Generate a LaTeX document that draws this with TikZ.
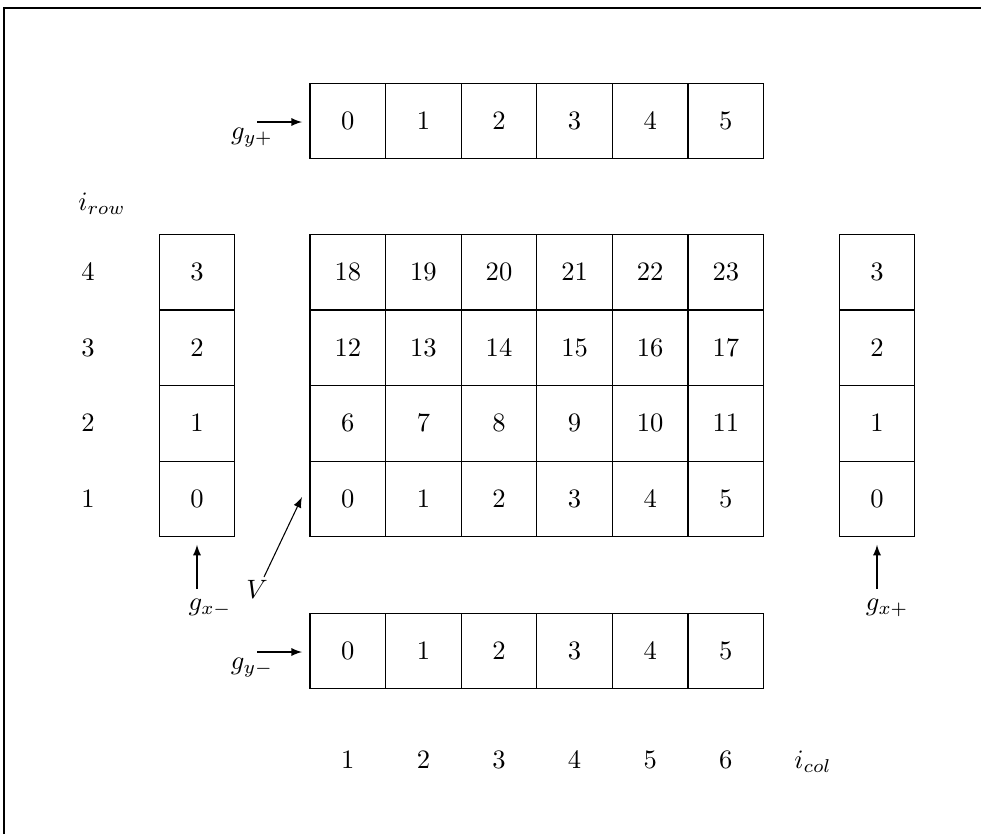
\documentclass[tikz,border=0pt]{standalone}
\usetikzlibrary{arrows}
\begin{document}
\begin{tikzpicture}[x={(0.013228cm,0)},y={(0,-0.013228cm)},
  cell/.style={draw,minimum size=1cm,inner sep=0pt,outer sep=0pt},
  lbl/.style={inner sep=0pt},
  arr/.style={->,>=latex,shorten >=3pt}]
\useasboundingbox (0,0) rectangle (981,834);
\draw (4,834) -- (4,8) -- (981,8);
% main grid
\foreach \r in {0,...,3}{
  \foreach \c in {0,...,5}{
    \pgfmathtruncatemacro{\n}{6*\r+\c}
    \node[cell] (m-\c-\r) at (347.8+75.6*\c, 499-75.6*\r) {$\n$};
  }
  \node[cell] (l-\r) at (197, 499-75.6*\r) {$\r$};
  \node[cell] (r-\r) at (877, 499-75.6*\r) {$\r$};
  \pgfmathtruncatemacro{\rr}{\r+1}
  \node[lbl] (row-\r) at (88, 499-75.6*\r) {$\rr$};
}
\foreach \c in {0,...,5}{
  \node[cell] (t-\c) at (347.8+75.6*\c, 121) {$\c$};
  \node[cell] (b-\c) at (347.8+75.6*\c, 651) {$\c$};
  \pgfmathtruncatemacro{\cc}{\c+1}
  \node[lbl] (col-\c) at (347.8+75.6*\c, 760) {$\cc$};
}
\node[lbl] (irow) at (102,204) {$i_{row}$};
\node[lbl] (icol) at (813,762) {$i_{col}$};
% ghost labels and arrows
\node[lbl] (gyp) at (252,138) {$g_{y+}$};
\coordinate (gyps) at (257,122);
\draw[arr] (gyps) -- (t-0.west |- gyps);
\node[lbl] (gym) at (252,668) {$g_{y-}$};
\coordinate (gyms) at (257,652);
\draw[arr] (gyms) -- (b-0.west |- gyms);
\node[lbl] (gxm) at (210,608) {$g_{x-}$};
\coordinate (gxms) at (197,589);
\draw[arr] (gxms) -- (l-0.south);
\node[lbl] (gxp) at (887,608) {$g_{x+}$};
\coordinate (gxps) at (877,589);
\draw[arr] (gxps) -- (r-0.south);
\node[lbl] (V) at (257,589) {$V$};
\coordinate (Vs) at (264,577);
\coordinate (Ve) at (302,497);
\draw[->,>=latex] (Vs) -- (Ve);
\end{tikzpicture}
\end{document}
